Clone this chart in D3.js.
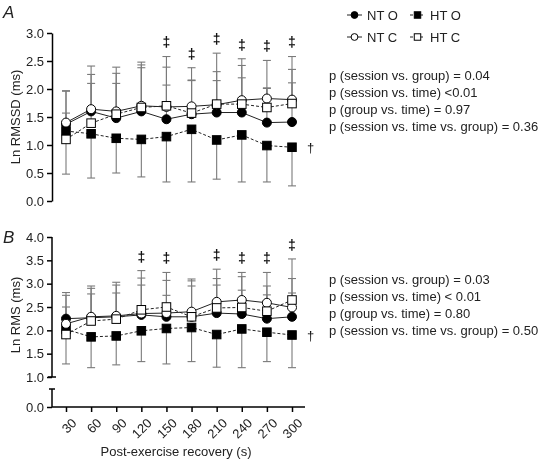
<!DOCTYPE html>
<html><head><meta charset="utf-8">
<script src="https://cdn.jsdelivr.net/npm/d3@7"></script>
<style>
body{margin:0;background:#fff;}
svg{will-change:transform;}
text{font-family:"Liberation Sans",Arial,Helvetica,sans-serif;fill:#222;}
</style></head>
<body><svg id="c" width="542" height="459"></svg>
<script>
// ---------- DATA ----------
const categories = [30, 60, 90, 120, 150, 180, 210, 240, 270, 300];
const seriesNames = ["NT O", "HT O", "NT C", "HT C"];

// Panel A: Ln RMSSD (ms)
const ntO_A = [1.37, 1.60, 1.48, 1.60, 1.46, 1.55, 1.58, 1.58, 1.40, 1.41];
const htO_A = [1.25, 1.20, 1.12, 1.10, 1.15, 1.28, 1.09, 1.18, 0.99, 0.96];
const ntC_A = [1.40, 1.64, 1.60, 1.70, 1.68, 1.69, 1.72, 1.80, 1.83, 1.81];
const htC_A = [1.10, 1.39, 1.55, 1.67, 1.70, 1.57, 1.73, 1.73, 1.67, 1.74];
// error bar ends (mean + SD / mean - SD)
const ntC_A_up = [1.97, 2.41, 2.39, 2.48, 2.58, 2.38, 2.64, 2.54, 2.51, 2.58];
const htC_A_up = [1.96, 2.26, 2.28, 2.43, 2.39, 2.16, 2.31, 2.42, 2.02, 2.35];
const ntO_A_up = [1.57, 2.10, 2.10, 2.38, 2.07, 2.15, 2.15, 2.20, 2.01, 2.11];
const htO_A_lo = [0.48, 0.41, 0.50, 0.43, 0.34, 0.34, 0.39, 0.34, 0.34, 0.27];
const sigA = [150, 180, 210, 240, 270, 300];
const pTextA = ["p (session vs. group) = 0.04", "p (session vs. time) <0.01",
                "p (group vs. time) = 0.97", "p (session vs. time vs. group) = 0.36"];
const ticksA = [0, 0.5, 1.0, 1.5, 2.0, 2.5, 3.0];

// Panel B: Ln RMS (ms)
const ntO_B = [2.25, 2.27, 2.29, 2.33, 2.29, 2.29, 2.37, 2.35, 2.25, 2.29];
const htO_B = [2.02, 1.86, 1.88, 1.99, 2.04, 2.06, 1.91, 2.03, 1.96, 1.90];
const ntC_B = [2.14, 2.29, 2.31, 2.36, 2.37, 2.40, 2.61, 2.65, 2.59, 2.49];
const htC_B = [1.91, 2.20, 2.24, 2.44, 2.50, 2.29, 2.48, 2.49, 2.41, 2.65];
const ntC_B_up = [2.81, 2.95, 3.03, 3.28, 3.24, 3.10, 3.31, 3.24, 3.24, 3.53];
const htC_B_up = [2.75, 2.90, 2.97, 3.12, 3.07, 3.06, 3.11, 3.15, 2.95, 3.11];
const ntO_B_up = [2.50, 2.78, 2.80, 2.97, 2.75, 2.95, 2.97, 2.86, 2.76, 2.80];
const htO_B_lo = [1.28, 1.20, 1.26, 1.33, 1.28, 1.33, 1.21, 1.20, 1.33, 1.20];
const sigB = [120, 150, 210, 240, 270, 300];
const pTextB = ["p (session vs. group) = 0.03", "p (session vs. time) < 0.01",
                "p (group vs. time) = 0.80", "p (session vs. time vs. group) = 0.50"];
const ticksB = [0, 1.0, 1.5, 2.0, 2.5, 3.0, 3.5, 4.0];

// ---------- DRAW ----------
const svg = d3.select("#c");
const x = d3.scalePoint().domain(categories).range([66, 292]);
const yA = d3.scaleLinear().domain([0, 3]).range([201, 33]);
const yB = d3.scaleLinear().domain([0, 1, 4]).range([407, 377, 237]);

const styles = {
  "NT O": {shape: "circle", fill: "#000", dash: null},
  "HT O": {shape: "square", fill: "#000", dash: "3,2"},
  "NT C": {shape: "circle", fill: "#fff", dash: null},
  "HT C": {shape: "square", fill: "#fff", dash: "3,2"}
};
const errCol = "#7a7a7a";

function marker(g, shape, cx, cy, fill, r) {
  if (shape === "circle") {
    g.append("circle").attr("cx", cx).attr("cy", cy).attr("r", r)
      .attr("fill", fill).attr("stroke", "#000").attr("stroke-width", 1);
  } else {
    const s = r * 1.9;
    g.append("rect").attr("x", cx - s / 2).attr("y", cy - s / 2).attr("width", s).attr("height", s)
      .attr("fill", fill).attr("stroke", "#000").attr("stroke-width", 1);
  }
}

function panel(y, series, ups, lows, sig) {
  const g = svg.append("g");
  const eb = g.append("g").attr("stroke", errCol).attr("stroke-width", 1.1);
  ups.concat(lows).forEach(u => {
    categories.forEach((c, i) => {
      const m = series[u.s][i];
      eb.append("line").attr("x1", x(c)).attr("x2", x(c)).attr("y1", y(m)).attr("y2", y(u.v[i]));
      eb.append("line").attr("x1", x(c) - 4).attr("x2", x(c) + 4).attr("y1", y(u.v[i])).attr("y2", y(u.v[i]));
    });
  });
  const line = d3.line().x(d => x(d.c)).y(d => y(d.v));
  seriesNames.forEach(n => {
    const pts = categories.map((c, i) => ({c, v: series[n][i]}));
    g.append("path").attr("d", line(pts)).attr("fill", "none").attr("stroke", "#222")
      .attr("stroke-width", 1).attr("stroke-dasharray", styles[n].dash);
  });
  seriesNames.forEach(n => {
    categories.forEach((c, i) => marker(g, styles[n].shape, x(c), y(series[n][i]), styles[n].fill, 4.5));
  });
  sig.forEach(c => {
    const i = categories.indexOf(c);
    const top = d3.max(ups, u => u.v[i]);
    g.append("text").attr("x", x(c)).attr("y", y(top) - 14).attr("dy", "0.35em")
      .attr("text-anchor", "middle").style("font-size", "14px").style("font-weight", "bold")
      .style("fill", "#111").text("\u2021");
  });
  const last = series["HT O"][categories.length - 1];
  g.append("text").attr("x", x(categories[categories.length - 1]) + 15).attr("y", y(last)).attr("dy", "0.35em")
    .style("font-size", "13px").style("fill", "#111").text("\u2020");
  return g;
}

// Panel A
panel(yA, {"NT O": ntO_A, "HT O": htO_A, "NT C": ntC_A, "HT C": htC_A},
  [{s: "NT C", v: ntC_A_up}, {s: "HT C", v: htC_A_up}, {s: "NT O", v: ntO_A_up}],
  [{s: "HT O", v: htO_A_lo}], sigA);

const axA = svg.append("g").attr("transform", "translate(52,0)")
  .call(d3.axisLeft(yA).tickValues(ticksA).tickFormat(d3.format(".1f")).tickSize(5).tickSizeOuter(0).tickPadding(3));
axA.select(".domain").attr("stroke-width", 1.5);
axA.selectAll(".tick line").attr("stroke-width", 1.5);
axA.selectAll("text").style("font-size", "13px").attr("fill", "#222");

// Panel B
panel(yB, {"NT O": ntO_B, "HT O": htO_B, "NT C": ntC_B, "HT C": htC_B},
  [{s: "NT C", v: ntC_B_up}, {s: "HT C", v: htC_B_up}, {s: "NT O", v: ntO_B_up}],
  [{s: "HT O", v: htO_B_lo}], sigB);

const axB = svg.append("g").attr("transform", "translate(52,0)")
  .call(d3.axisLeft(yB).tickValues(ticksB).tickFormat(d3.format(".1f")).tickSize(5).tickSizeOuter(0).tickPadding(3));
axB.select(".domain").remove();
axB.selectAll(".tick line").attr("stroke-width", 1.5);
axB.selectAll("text").style("font-size", "13px").attr("fill", "#222");
const brk = svg.append("g").attr("stroke", "#000").attr("stroke-width", 1.5);
brk.append("line").attr("x1", 52).attr("x2", 52).attr("y1", yB(1)).attr("y2", yB(4));
brk.append("line").attr("x1", 48).attr("x2", 56).attr("y1", yB(1)).attr("y2", yB(1));
brk.append("line").attr("x1", 52).attr("x2", 52).attr("y1", yB(0)).attr("y2", yB(0) - 18);
brk.append("line").attr("x1", 49).attr("x2", 55).attr("y1", yB(0) - 18).attr("y2", yB(0) - 18);

// x axis (panel B)
const axX = svg.append("g").attr("transform", `translate(0,${yB(0)})`)
  .call(d3.axisBottom(x).tickSize(5).tickSizeOuter(0).tickPadding(3));
axX.select(".domain").remove();
axX.selectAll(".tick line").attr("stroke-width", 1.5);
axX.append("line").attr("x1", 52).attr("x2", 305).attr("stroke", "#000").attr("stroke-width", 1.5);
axX.selectAll(".tick text").style("font-size", "13px").attr("fill", "#222")
  .attr("text-anchor", "end").attr("dy", "0.35em")
  .attr("transform", "translate(2,8) rotate(-45)");

// axis titles
svg.append("text").attr("transform", `translate(15,${(yA(0) + yA(3)) / 2}) rotate(-90)`)
  .attr("text-anchor", "middle").attr("dy", "0.35em").style("font-size", "13px").text("Ln RMSSD (ms)");
svg.append("text").attr("transform", `translate(15,${(yB(1) + yB(4)) / 2 + 8}) rotate(-90)`)
  .attr("text-anchor", "middle").attr("dy", "0.35em").style("font-size", "13px").text("Ln RMS (ms)");
svg.append("text").attr("x", 176).attr("y", 451).attr("dy", "0.35em").attr("text-anchor", "middle")
  .style("font-size", "13px").text("Post-exercise recovery (s)");

// panel letters
svg.append("text").attr("x", 3).attr("y", 18).style("font-size", "17px").style("font-style", "italic").text("A");
svg.append("text").attr("x", 3).attr("y", 243).style("font-size", "17px").style("font-style", "italic").text("B");

// legend
const legPos = {"NT O": [347, 15], "HT O": [410, 15], "NT C": [347, 37], "HT C": [410, 37]};
const lg = svg.append("g");
seriesNames.forEach(n => {
  const [lx, ly] = legPos[n];
  lg.append("line").attr("x1", lx).attr("x2", lx + 15).attr("y1", ly).attr("y2", ly)
    .attr("stroke", "#222").attr("stroke-width", 1).attr("stroke-dasharray", styles[n].dash);
  marker(lg, styles[n].shape, lx + 7.5, ly, styles[n].fill, 3.4);
  lg.append("text").attr("x", lx + 20).attr("y", ly).attr("dy", "0.35em").style("font-size", "13px").text(n);
});

// p-value text
pTextA.forEach((t, i) => svg.append("text").attr("x", 329).attr("y", 75 + i * 17).attr("dy", "0.35em")
  .style("font-size", "13px").text(t));
pTextB.forEach((t, i) => svg.append("text").attr("x", 329).attr("y", 279 + i * 17).attr("dy", "0.35em")
  .style("font-size", "13px").text(t));
</script></body></html>
